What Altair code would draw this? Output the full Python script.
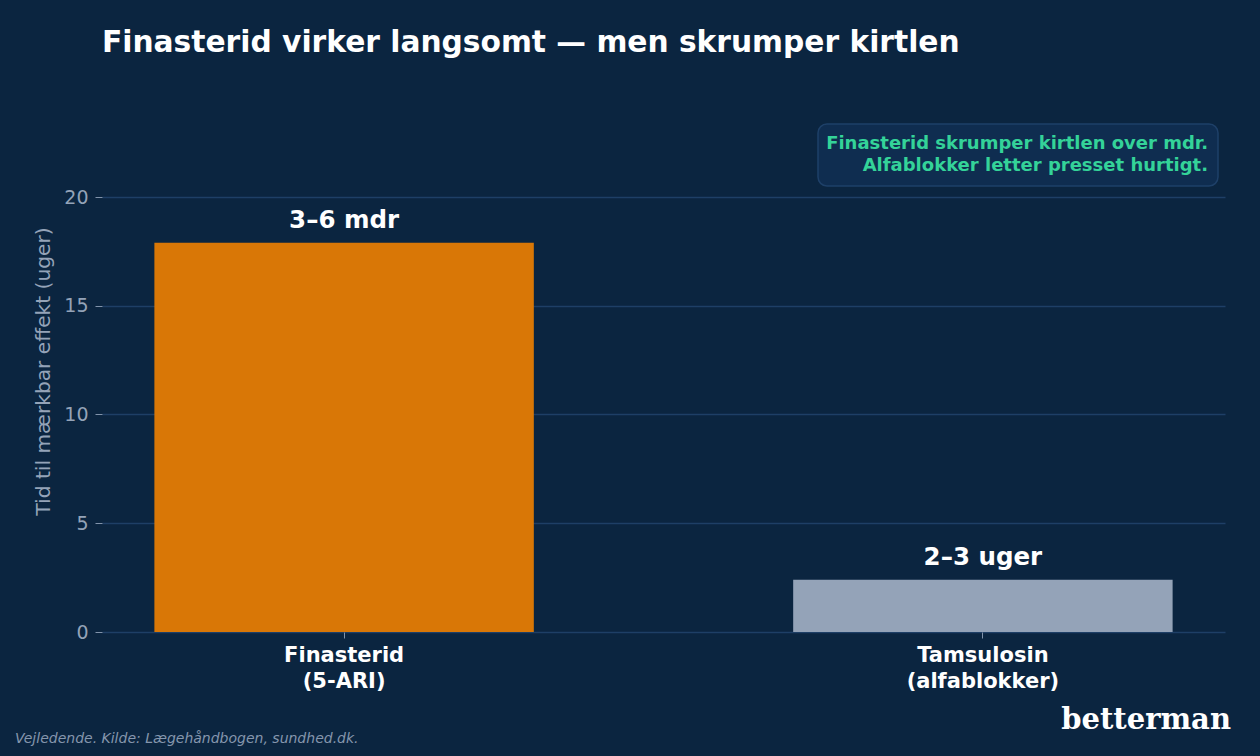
import altair as alt
import pandas as pd

# Values
drugs = ["Finasterid|(5-ARI)", "Tamsulosin|(alfablokker)"]
weeks = [17.9, 2.4]
bar_labels = ["3–6 mdr", "2–3 uger"]
bar_colors = ["#d97706", "#94a3b8"]
y_ticks = [0, 5, 10, 15, 20]

TITLE = "Finasterid virker langsomt — men skrumper kirtlen"
Y_TITLE = "Tid til mærkbar effekt (uger)"
NOTE_LINES = ["Finasterid skrumper kirtlen over mdr.", "Alfablokker letter presset hurtigt."]
FOOTER = "Vejledende. Kilde: Lægehåndbogen, sundhed.dk."
LOGO = "betterman"

BG = "#0b2540"
GRID = "#1e3f66"
MUTED = "#94a3b8"
NOTE_GREEN = "#34d399"

W, H = 1123, 522

df = pd.DataFrame({"drug": drugs, "weeks": weeks, "label": bar_labels})

x_enc = alt.X(
    "drug:N",
    sort=drugs,
    scale=alt.Scale(paddingInner=0.406, paddingOuter=0.082),
    axis=alt.Axis(
        title=None,
        labelExpr="split(datum.label, '|')",
        labelAngle=0,
        labelFontSize=21,
        labelFontWeight="bold",
        labelColor="white",
        labelLineHeight=26,
        labelPadding=6,
        tickSize=6,
        tickColor="#8193ab",
        domain=False,
        grid=False,
    ),
)
y_scale = alt.Scale(domain=[0, 24], nice=False)

bars = alt.Chart(df).mark_bar().encode(
    x=x_enc,
    y=alt.Y(
        "weeks:Q",
        scale=y_scale,
        axis=alt.Axis(
            title=Y_TITLE,
            values=y_ticks,
            grid=True,
            gridColor=GRID,
            gridWidth=1.3,
            domain=False,
            tickSize=7,
            tickColor="#8193ab",
            labelPadding=7,
            labelFontSize=19,
            labelColor=MUTED,
            titleFontSize=20.2,
            titleFontWeight="normal",
            titleColor=MUTED,
            titlePadding=10,
        ),
    ),
    color=alt.Color("drug:N", scale=alt.Scale(domain=drugs, range=bar_colors), legend=None),
)

value_text = alt.Chart(df).mark_text(
    dy=-15, baseline="alphabetic", fontSize=24.5, fontWeight="bold", color="white"
).encode(
    x=alt.X("drug:N", sort=drugs),
    y=alt.Y("weeks:Q", scale=y_scale),
    text="label:N",
)

# Annotation box in the upper right of the plot
note_box = alt.Chart(pd.DataFrame({"k": [0]})).mark_rect(
    fill="#0f2d50", stroke="#1e4068", strokeWidth=1.5, cornerRadius=9
).encode(x=alt.value(716), x2=alt.value(1116), y=alt.value(14), y2=alt.value(76))

note_text = alt.Chart(pd.DataFrame({"k": [0]})).mark_text(
    align="right", baseline="alphabetic", fontSize=18, fontWeight="bold",
    color=NOTE_GREEN, lineHeight=22,
).encode(x=alt.value(1106), y=alt.value(39), text=alt.value(NOTE_LINES))

footer = alt.Chart(pd.DataFrame({"t": [FOOTER]})).mark_text(
    align="left", baseline="alphabetic", fontSize=14, fontStyle="italic", color="#8596ad"
).encode(x=alt.value(-87), y=alt.value(633), text="t:N")

logo = alt.Chart(pd.DataFrame({"t": [LOGO]})).mark_text(
    align="right", baseline="alphabetic", fontSize=29, fontWeight="bold",
    font="DejaVu Serif", color="white",
).encode(x=alt.value(1129), y=alt.value(619), text="t:N")

chart = (
    alt.layer(bars, value_text, note_box, note_text, footer, logo)
    .properties(
        width=W,
        height=H,
        background=BG,
        padding={"left": 102, "top": 110, "right": 35, "bottom": 124},
        autosize=alt.AutoSizeParams(type="none"),
        title=alt.TitleParams(
            TITLE, anchor="start", frame="group", fontSize=29.7, fontWeight="bold",
            color="white", baseline="alphabetic", offset=28,
        ),
    )
    .configure(font="DejaVu Sans")
    .configure_view(strokeWidth=0)
)

chart.save("out.html", embed_options={"renderer": "svg", "actions": False})
